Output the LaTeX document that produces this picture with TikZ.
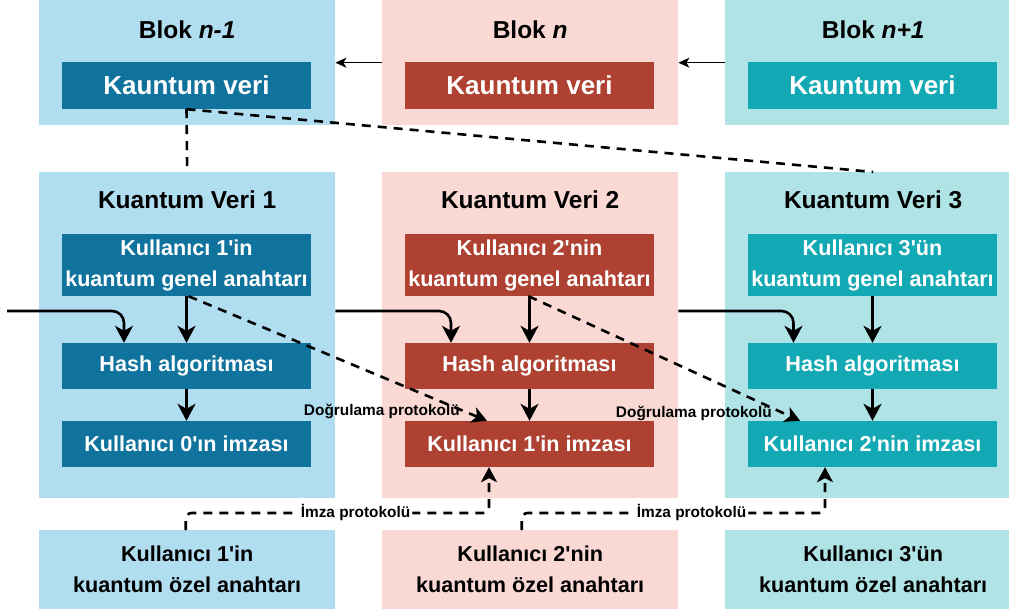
\documentclass[tikz,border=0pt]{standalone}
\usepackage{fontspec}
\setmainfont{Liberation Sans}[Ligatures=TeXOff]
\usetikzlibrary{arrows.meta}
\definecolor{bgA}{HTML}{B1DDF0}
\definecolor{fgA}{HTML}{10739E}
\definecolor{bgB}{HTML}{FAD9D5}
\definecolor{fgB}{HTML}{AE4132}
\definecolor{bgC}{HTML}{B0E3E6}
\definecolor{fgC}{HTML}{13A9B4}
\begin{document}
\begin{tikzpicture}[x=1pt,y=-1pt,
  bgbox/.style={rectangle, draw=none, inner sep=0pt, anchor=north west, minimum width=296pt},
  topbg/.style={bgbox, minimum height=125pt},
  midbg/.style={bgbox, minimum height=326pt},
  botbg/.style={bgbox, minimum height=79pt, align=center, text=black,
     font=\fontsize{21.6}{31}\selectfont\bfseries},
  inbox/.style={rectangle, draw=none, inner sep=2pt, minimum width=249pt, text=white, align=center,
     font=\fontsize{21.6}{31}\selectfont\bfseries},
  kbox/.style={inbox, minimum height=47pt, font=\fontsize{26}{30}\selectfont\bfseries},
  gbox/.style={inbox, minimum height=62pt},
  hbox/.style={inbox, minimum height=46pt},
  ttl/.style={inner sep=0pt, text=black, font=\fontsize{24.5}{28}\selectfont\bfseries},
  lbl/.style={inner sep=2pt, text=black, font=\fontsize{15.4}{18}\selectfont\bfseries},
  flow/.style={line width=2.6pt, -{Stealth[length=17pt,width=18pt,inset=5pt]}},
  dline/.style={line width=2.6pt, dash pattern=on 9pt off 7pt},
  dflow/.style={dline, -{Stealth[length=15pt,width=16pt,inset=4pt]}},
  thinarrow/.style={line width=1.4pt, -{Stealth[length=11pt,width=10pt,inset=3pt]}}
]
\useasboundingbox (0,0) rectangle (1009,609);
\clip (0,0) rectangle (1009,609);

% backgrounds
\node[topbg, fill=bgA] (T1) at (39,0) {};
\node[topbg, fill=bgB] (T2) at (382,0) {};
\node[topbg, fill=bgC] (T3) at (725,0) {};
\node[midbg, fill=bgA] (M1) at (39,172) {};
\node[midbg, fill=bgB] (M2) at (382,172) {};
\node[midbg, fill=bgC] (M3) at (725,172) {};
\node[botbg, fill=bgA] (B1) at (39,530) {Kullanıcı 1'in\\kuantum özel anahtarı};
\node[botbg, fill=bgB] (B2) at (382,530) {Kullanıcı 2'nin\\kuantum özel anahtarı};
\node[botbg, fill=bgC] (B3) at (725,530) {Kullanıcı 3'ün\\kuantum özel anahtarı};

% titles
\node[ttl] (t1) at ([yshift=-30pt]T1.north) {Blok \textit{n-1}};
\node[ttl] (t2) at ([yshift=-30pt]T2.north) {Blok \textit{n}};
\node[ttl] (t3) at ([yshift=-30pt]T3.north) {Blok \textit{n+1}};
\node[ttl] (m1) at ([yshift=-28pt]M1.north) {Kuantum Veri 1};
\node[ttl] (m2) at ([yshift=-28pt]M2.north) {Kuantum Veri 2};
\node[ttl] (m3) at ([yshift=-28pt]M3.north) {Kuantum Veri 3};

% inner boxes
\node[kbox, fill=fgA] (K1) at (186.5,85.5) {Kauntum veri};
\node[kbox, fill=fgB] (K2) at (529.5,85.5) {Kauntum veri};
\node[kbox, fill=fgC] (K3) at (872.5,85.5) {Kauntum veri};

\node[gbox, fill=fgA] (G1) at (186.5,265) {Kullanıcı 1'in\\kuantum genel anahtarı};
\node[gbox, fill=fgB] (G2) at (529.5,265) {Kullanıcı 2'nin\\kuantum genel anahtarı};
\node[gbox, fill=fgC] (G3) at (872.5,265) {Kullanıcı 3'ün\\kuantum genel anahtarı};

\node[hbox, fill=fgA] (H1) at (186.5,366) {Hash algoritması};
\node[hbox, fill=fgB] (H2) at (529.5,366) {Hash algoritması};
\node[hbox, fill=fgC] (H3) at (872.5,366) {Hash algoritması};

\node[hbox, fill=fgA] (I1) at (186.5,444) {Kullanıcı 0'ın imzası};
\node[hbox, fill=fgB] (I2) at (529.5,444) {Kullanıcı 1'in imzası};
\node[hbox, fill=fgC] (I3) at (872.5,444) {Kullanıcı 2'nin imzası};

% top chain arrows
\draw[thinarrow] (T2.west) -- (T1.east);
\draw[thinarrow] (T3.west) -- (T2.west -| T2.east);

% dashed links from block n-1
\draw[dline] (K1.south) -- (M1.north);
\draw[dline] (K1.south) -- (M3.north);

% vertical flows
\foreach \c in {1,2,3}{
  \draw[flow] (G\c.south) -- (H\c.north);
  \draw[flow] (H\c.south) -- (I\c.north);
}

% incoming flows
\coordinate (in0) at (7,311);
\draw[flow, rounded corners=12pt] (in0) -| ([xshift=-62.5pt]H1.north);
\draw[flow, rounded corners=12pt] (M1.east |- in0) -| ([xshift=-78.5pt]H2.north);
\draw[flow, rounded corners=12pt] (M2.east |- in0) -| ([xshift=-79pt]H3.north);

% verification protocol
\draw[dflow] ([xshift=2pt]G1.south) -- ([xshift=-42.5pt]I2.north)
   node[lbl, pos=1, anchor=east, xshift=-24pt, yshift=9pt] {Doğrulama protokolü};
\draw[dflow] ([xshift=-1pt]G2.south) -- ([xshift=-72.5pt]I3.north)
   node[lbl, pos=1, anchor=east, xshift=-25pt, yshift=7pt] {Doğrulama protokolü};

% signing protocol
\coordinate (r1) at (489,513);
\coordinate (r2) at (825,513);
\draw[dflow, rounded corners=6pt] ([xshift=-1.5pt]B1.north) |-
   node[lbl, pos=0.78, fill=white] {İmza protokolü} (r1) -- (r1 |- I2.south);
\draw[dflow, rounded corners=6pt] ([xshift=-8.5pt]B2.north) |-
   node[lbl, pos=0.78, fill=white] {İmza protokolü} (r2) -- (r2 |- I3.south);
\end{tikzpicture}
\end{document}
